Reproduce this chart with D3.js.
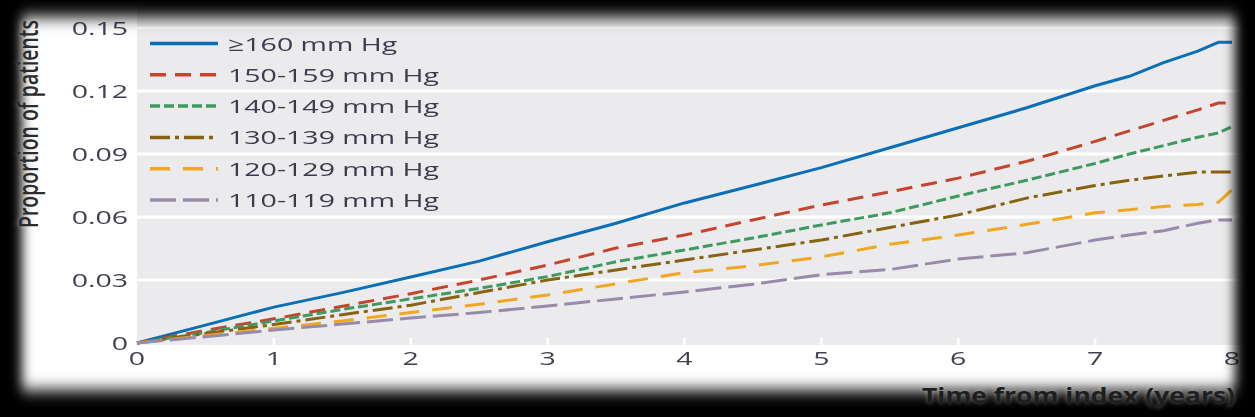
<!DOCTYPE html>
<html>
<head>
<meta charset="utf-8">
<script src="https://cdn.jsdelivr.net/npm/d3@7"></script>
<style>
  html, body { margin: 0; padding: 0; background: #000; }
  svg { display: block; }
  text { font-family: "Open Sans", "DejaVu Sans", sans-serif; }
</style>
</head>
<body>
<div id="chart"></div>
<script>
// values (proportion of patients with event)
var years   = [0, 0.5, 1, 1.5, 2, 2.5, 3, 3.5, 4, 4.5, 5, 5.5, 6, 6.5, 7, 7.25, 7.5, 7.75, 7.9, 8];
var bp160   = [0, .0085, .0171, .024, .0314, .039, .0482, .057, .0667, .075, .0835, .093, .1025, .112, .1225, .127, .1335, .139, .1432, .1432];
var bp150   = [0, .006, .0115, .0175, .0235, .030, .0371, .0452, .0514, .0586, .0657, .072, .0785, .0865, .096, .101, .106, .111, .1143, .1143];
var bp140   = [0, .005, .0105, .016, .021, .026, .0316, .0387, .0443, .050, .0562, .062, .070, .0775, .0855, .090, .094, .098, .100, .103];
var bp130   = [0, .0045, .0088, .0135, .018, .024, .030, .0348, .0395, .0443, .049, .055, .061, .069, .075, .0775, .0795, .0814, .0814, .0814];
var bp120   = [0, .0035, .007, .0105, .0145, .0185, .0229, .0282, .0335, .0368, .041, .047, .0514, .0565, .062, .0635, .065, .066, .067, .073];
var bp110   = [0, .003, .0062, .009, .0119, .0145, .0176, .021, .0243, .028, .0325, .035, .040, .043, .049, .0514, .0535, .057, .0586, .0586];

var seriesNames = ["\u2265160 mm Hg", "150-159 mm Hg", "140-149 mm Hg", "130-139 mm Hg", "120-129 mm Hg", "110-119 mm Hg"];
var seriesValues = [bp160, bp150, bp140, bp130, bp120, bp110];
var seriesColors = ["#0b6fb6", "#c5442d", "#3e9a5f", "#876210", "#f1a620", "#988aaa"];
var seriesDashes = ["none", "16,9", "10,4", "20,5,4,5", "20,13", "26,7"];

var yTicks = [0, 0.03, 0.06, 0.09, 0.12, 0.15];
var yTickLabels = ["0", "0.03", "0.06", "0.09", "0.12", "0.15"];
var xTicks = [0, 1, 2, 3, 4, 5, 6, 7, 8];

var width = 1255, height = 417;
var SX = 1.5;   // the picture is stretched sideways, text too

var svg = d3.select("#chart").append("svg")
    .attr("width", width)
    .attr("height", height);

svg.append("rect").attr("width", width).attr("height", height).attr("fill", "#000");

var defs = svg.append("defs");
defs.append("filter").attr("id", "soft")
    .append("feGaussianBlur").attr("stdDeviation", "6 8");
defs.append("filter").attr("id", "glow")
    .append("feGaussianBlur").attr("stdDeviation", 2);
defs.append("mask").attr("id", "panelMask")
    .attr("maskUnits", "userSpaceOnUse")
    .attr("x", 0).attr("y", 0).attr("width", width).attr("height", height)
    .append("rect")
    .attr("x", 22).attr("y", 17).attr("width", 1213).attr("height", 373)
    .attr("fill", "#fff")
    .attr("filter", "url(#soft)");

var x = d3.scaleLinear().domain([0, 8]).range([137, 1232]);
var y = d3.scaleLinear().domain([0, 0.15]).range([343, 28]);

var panel = svg.append("g").attr("mask", "url(#panelMask)");

panel.append("rect")
    .attr("x", 0).attr("y", 0).attr("width", width).attr("height", height)
    .attr("fill", "#fff");

// grey plot area
panel.append("rect")
    .attr("x", x(0)).attr("y", 0)
    .attr("width", width - x(0)).attr("height", y(0) + 2)
    .attr("fill", "#ebebed");

panel.append("g").selectAll("line")
    .data(yTicks.filter(function(d) { return d > 0; }))
    .enter().append("line")
    .attr("x1", x(0)).attr("x2", width)
    .attr("y1", function(d) { return y(d); })
    .attr("y2", function(d) { return y(d); })
    .attr("stroke", "#fff")
    .attr("stroke-width", 3);

panel.append("g").selectAll("line")
    .data(xTicks.slice(1, 8))
    .enter().append("line")
    .attr("x1", function(d) { return x(d); })
    .attr("x2", function(d) { return x(d); })
    .attr("y1", y(0) - 5).attr("y2", y(0) + 2)
    .attr("stroke", "#fff")
    .attr("stroke-width", 2.5);

function stretched(sel, px, py) {
    sel.attr("transform", "translate(" + px + "," + py + ") scale(" + SX + ",1)");
}

panel.append("g").selectAll("text")
    .data(yTicks)
    .enter().append("text")
    .each(function(d, i) {
        stretched(d3.select(this), 128, y(d) + 7);
    })
    .attr("text-anchor", "end")
    .attr("font-size", 19)
    .attr("font-weight", 500)
    .attr("fill", "#3f4152")
    .text(function(d, i) { return yTickLabels[i]; });

panel.append("g").selectAll("text")
    .data(xTicks)
    .enter().append("text")
    .each(function(d) {
        stretched(d3.select(this), x(d), 365);
    })
    .attr("text-anchor", "middle")
    .attr("font-size", 19)
    .attr("font-weight", 500)
    .attr("fill", "#3f4152")
    .text(function(d) { return d; });

// curves
var line = d3.line()
    .x(function(d, i) { return x(years[i]); })
    .y(function(d) { return y(d); });

panel.append("g").selectAll("path")
    .data(seriesValues)
    .enter().append("path")
    .attr("d", line)
    .attr("fill", "none")
    .attr("stroke", function(d, i) { return seriesColors[i]; })
    .attr("stroke-width", 3)
    .attr("stroke-dasharray", function(d, i) { return seriesDashes[i]; });

// legend
var legend = panel.append("g").selectAll("g")
    .data(seriesNames)
    .enter().append("g");

legend.append("line")
    .attr("x1", 150).attr("x2", 218)
    .attr("y1", function(d, i) { return 43.5 + i * 31.3; })
    .attr("y2", function(d, i) { return 43.5 + i * 31.3; })
    .attr("stroke", function(d, i) { return seriesColors[i]; })
    .attr("stroke-width", 3.5)
    .attr("stroke-dasharray", function(d, i) { return seriesDashes[i]; });

legend.append("text")
    .each(function(d, i) {
        stretched(d3.select(this), 228, 43.5 + i * 31.3 + 7);
    })
    .attr("font-size", 19)
    .attr("font-weight", 500)
    .attr("fill", "#3a3b4b")
    .text(function(d) { return d; });

// axis titles sit on the dark rim
function axisTitle(cls, opts) {
    var t = svg.append("text")
        .attr("class", cls)
        .attr("transform", opts.transform)
        .attr("text-anchor", opts.anchor)
        .attr("font-size", opts.size)
        .attr("font-weight", opts.weight)
        .attr("textLength", opts.length)
        .attr("lengthAdjust", "spacingAndGlyphs")
        .text(opts.label);
    return t;
}

var yTitle = {transform: "translate(38,124) scale(" + SX + ",1) rotate(-90)", anchor: "middle",
              size: 18, weight: 600, length: 208, label: "Proportion of patients"};
var xTitle = {transform: "translate(922,403)", anchor: "start",
              size: 21, weight: 700, length: 313, label: "Time from index (years)"};

axisTitle("halo", yTitle).attr("fill", "#fff").attr("opacity", 0.35).attr("filter", "url(#glow)");
axisTitle("halo", xTitle).attr("fill", "#fff").attr("opacity", 0.35).attr("filter", "url(#glow)");
axisTitle("title", yTitle).attr("fill", "#2b2b2b");
axisTitle("title", xTitle).attr("fill", "#1e1e1e");
</script>
</body>
</html>
